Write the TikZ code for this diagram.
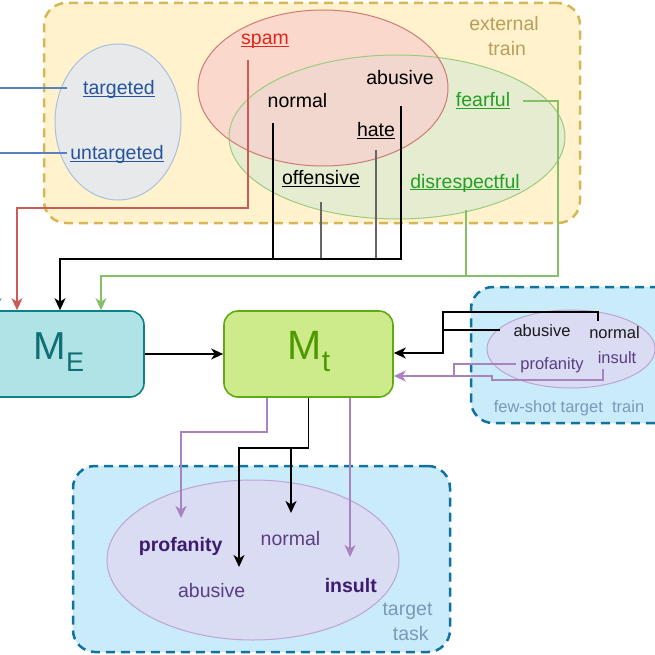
\documentclass[tikz,border=0pt]{standalone}
\usepackage{fontspec}
\setmainfont{Liberation Sans}
\usetikzlibrary{arrows.meta,calc}
\definecolor{extfill}{HTML}{FFF2CC}
\definecolor{extline}{HTML}{D6B656}
\definecolor{exttext}{HTML}{B8A05A}
\definecolor{blufill}{HTML}{E8E9EA}
\definecolor{bluline}{HTML}{A9C1DE}
\definecolor{blutext}{HTML}{24549F}
\definecolor{blucon}{HTML}{5B80C0}
\definecolor{redfill}{HTML}{F8CECC}
\definecolor{redline}{HTML}{D07A76}
\definecolor{redtext}{HTML}{E02620}
\definecolor{redcon}{HTML}{CC5A55}
\definecolor{grnfill}{HTML}{D5E8D4}
\definecolor{grnline}{HTML}{9CCB80}
\definecolor{grntext}{HTML}{23A023}
\definecolor{grncon}{HTML}{85BF68}
\definecolor{mefill}{HTML}{B0E3E6}
\definecolor{meline}{HTML}{0E8088}
\definecolor{metext}{HTML}{0E7075}
\definecolor{mtfill}{HTML}{CDEB8B}
\definecolor{mtline}{HTML}{60A917}
\definecolor{mttext}{HTML}{4D9A00}
\definecolor{cyfill}{HTML}{C9EBFA}
\definecolor{cyline}{HTML}{10739E}
\definecolor{cytext}{HTML}{7B98BC}
\definecolor{lavfill}{HTML}{D9DCF2}
\definecolor{lavline}{HTML}{BEA5D3}
\definecolor{purtext}{HTML}{3D1C70}
\definecolor{purcon}{HTML}{A883BD}
\definecolor{greycon}{HTML}{666666}
\newcommand{\ul}[1]{\underline{\smash{#1}}}
\begin{document}
\begin{tikzpicture}[x=1pt,y=-1pt,
  lbl/.style={inner sep=0pt,anchor=base,font=\fontsize{19.5}{22}\selectfont},
  slbl/.style={inner sep=0pt,anchor=base,font=\fontsize{16.5}{19}\selectfont},
  dbox/.style={rounded corners=22pt,line width=2.5pt,dash pattern=on 9pt off 6pt,inner sep=0pt},
  mbox/.style={rounded corners=14pt,line width=1.6pt,inner sep=0pt,minimum height=86pt},
  con/.style={line width=1.9pt},
  arr/.style={-{Stealth[length=12pt,width=11pt,inset=3.5pt]}},
]
\useasboundingbox (0,0) rectangle (655,655);
\clip (0,0) rectangle (655,655);

% containers
\node[dbox,draw=extline,fill=extfill,minimum width=536pt,minimum height=220pt] (ext) at (312,113) {};
\node[dbox,draw=cyline,fill=cyfill,minimum width=240pt,minimum height=136pt] (few) at (591,355) {};
\node[dbox,draw=cyline,fill=cyfill,minimum width=377pt,minimum height=186pt] (tgt) at (261.5,559) {};

% ellipses
\fill[blufill] (118,122) ellipse [x radius=63, y radius=78];
\draw[bluline,line width=1pt] (118,122) ellipse [x radius=63, y radius=78];
\fill[grnfill,fill opacity=0.6] (397,137) ellipse [x radius=168, y radius=82];
\fill[redfill,fill opacity=0.68] (323,88) ellipse [x radius=125, y radius=78];
\draw[grnline,line width=1pt] (397,137) ellipse [x radius=168, y radius=82];
\draw[redline,line width=1pt] (323,88) ellipse [x radius=125, y radius=78];
\fill[lavfill] (571,349) ellipse [x radius=84, y radius=39];
\draw[lavline,line width=1pt] (571,349) ellipse [x radius=84, y radius=39];
\fill[lavfill] (253,560) ellipse [x radius=146, y radius=80];
\draw[lavline,line width=1pt] (253,560) ellipse [x radius=146, y radius=80];

% labels external
\node[lbl,text=exttext] (extA) at (504,31) {external};
\node[lbl,text=exttext] (extB) at (507,56) {train};
\node[lbl,text=blutext] (targ) at (119,95) {\ul{targeted}};
\node[lbl,text=blutext] (untarg) at (117,160) {\ul{untargeted}};
\node[lbl,text=redtext] (spam) at (265,45) {\ul{spam}};
\node[lbl] (normE) at (297.5,108) {normal};
\node[lbl] (abuE) at (400,85) {abusive};
\node[lbl] (hate) at (376,137) {\ul{hate}};
\node[lbl] (off) at (321,185) {\ul{offensive}};
\node[lbl,text=grntext] (fear) at (483,107) {\ul{fearful}};
\node[lbl,text=grntext] (disr) at (465,188) {\ul{disrespectful}};

% models
\node[mbox,draw=meline,fill=mefill,minimum width=174pt] (ME) at (57,354) {};
\node[text=metext,inner sep=0pt] (MEt) at (59,352) {\fontsize{39}{39}\selectfont M\raisebox{-12pt}{\fontsize{27}{27}\selectfont E}};
\node[mbox,draw=mtline,fill=mtfill,minimum width=169pt] (Mt) at (308.5,354) {};
\node[text=mttext,inner sep=0pt] (Mtt) at (309,352) {\fontsize{41}{41}\selectfont M\raisebox{-12pt}{\fontsize{30}{30}\selectfont t}};

% few-shot labels
\node[slbl,text=black!90] (abuF) at (542,336) {abusive};
\node[slbl,text=black!90] (normF) at (614.5,338) {normal};
\node[slbl,text=purtext!85] (profF) at (552,369) {profanity};
\node[slbl,text=purtext!85] (insF) at (617,363) {insult};
\node[slbl,text=cytext] (fewl) at (569,412) {few-shot target\ \ train};

% target labels
\node[lbl,text=purtext,font=\fontsize{19.5}{22}\selectfont\bfseries] (profT) at (180.7,551) {profanity};
\node[lbl,text=purtext!85] (normT) at (290.5,545) {normal};
\node[lbl,text=purtext!85] (abuT) at (211.7,597) {abusive};
\node[lbl,text=purtext,font=\fontsize{19.5}{22}\selectfont\bfseries] (insT) at (350.8,592) {insult};
\node[lbl,text=cytext] (tgtA) at (407.5,615) {target};
\node[lbl,text=cytext] (tgtB) at (410.8,640) {task};

% coordinates
\coordinate (targA) at (67,88);
\coordinate (untA) at (67,153);
\coordinate (bluK) at (-4,153);
\coordinate (spamA) at (248,60);
\coordinate (redK) at (17,208);
\coordinate (normA) at (273,123);
\coordinate (offA) at (321,202);
\coordinate (hateA) at (376,150);
\coordinate (abuA) at (401,106);
\coordinate (blkK) at (60,259);
\coordinate (fearA) at (523,101);
\coordinate (disA) at (466,210);
\coordinate (grnR) at (558,276);
\coordinate (grnK) at (101,276);
\coordinate (normB) at (598,321);
\coordinate (fkT) at (443,312);
\coordinate (fk) at (443,353);
\coordinate (abuB) at (500,330);
\coordinate (profB) at (516,364);
\coordinate (pk) at (454,376);
\coordinate (insB) at (603,369);
\coordinate (insK) at (492,380);
\coordinate (pA) at (267,432);
\coordinate (pTip) at (181,518);
\coordinate (bA) at (308.5,448);
\coordinate (bTip) at (239,567);
\coordinate (nTip) at (291,513);
\coordinate (iA) at (350,557);

% external connectors
\draw[con,blucon] (targA) -- (bluK |- targA) -- (bluK);
\draw[con,blucon,arr] (untA) -- (bluK) -- (bluK |- ME.north);
\draw[con,redcon,arr] (spamA) |- (redK) -- (redK |- ME.north);
\draw[con,black] (normA) -- (normA |- blkK);
\draw[con,greycon] (offA) -- (offA |- blkK);
\draw[con,greycon] (hateA) -- (hateA |- blkK);
\draw[con,black,arr] (abuA) |- (blkK) -- (blkK |- ME.north);
\draw[con,grncon,arr] (fearA) -| (grnR) -- (grnK) -- (grnK |- ME.north);
\draw[con,grncon] (disA) -- (disA |- grnR);

% ME to Mt
\draw[con,black,arr] (ME.east) -- (Mt.west);

% few-shot connectors
\draw[con,black,arr] (normB) |- (fkT) -- (fk) -- (fk -| Mt.east);
\draw[con,black] (abuB) -- (abuB -| fk);
\draw[con,purcon,arr] (insB) |- (insK) -- (insK |- pk) -- (pk -| Mt.east);
\draw[con,purcon] (profB) -| (pk);

% Mt to target
\draw[con,purcon,arr] (pA |- Mt.south) -- (pA) -| (pTip);
\draw[con,black,arr] (Mt.south) -- (bA) -| (bTip);
\draw[con,black,arr] (nTip |- bA) -- (nTip);
\draw[con,purcon,arr] (iA |- Mt.south) -- (iA);
\end{tikzpicture}
\end{document}
